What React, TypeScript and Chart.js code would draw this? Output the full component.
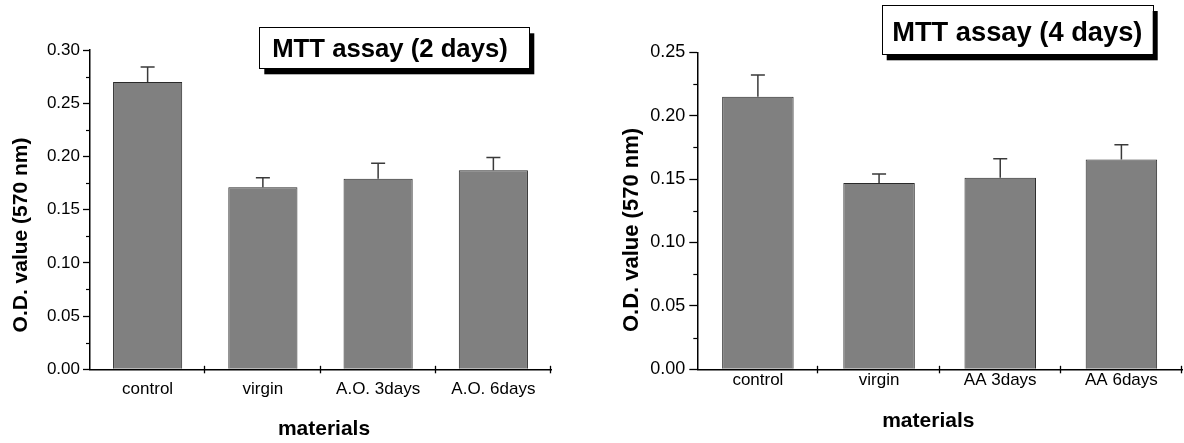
import React, { useEffect, useRef } from 'react';
import { Chart, registerables } from 'chart.js';

Chart.register(...registerables);

const FONT = "'Liberation Sans', Arial, Helvetica, sans-serif";

// ---- Data: MTT assay (2 days)
const title2 = 'MTT assay (2 days)';
const categories2 = ['control', 'virgin', 'A.O. 3days', 'A.O. 6days'];
const values2 = [0.27, 0.171, 0.179, 0.187];
const errors2 = [0.014, 0.009, 0.0145, 0.012];
const yMax2 = 0.3;

// ---- Data: MTT assay (4 days)
const title4 = 'MTT assay (4 days)';
const categories4 = ['control', 'virgin', 'AA 3days', 'AA 6days'];
const values4 = [0.215, 0.147, 0.151, 0.1655];
const errors4 = [0.017, 0.007, 0.015, 0.0115];
const yMax4 = 0.25;

const yMajorStep = 0.05;
const yMinorStep = 0.025;
const yAxisTitle = 'O.D. value (570 nm)';
const xAxisTitle = 'materials';

interface Layout {
  padTop: number;
  padRight: number;
  yWidth: number;
  xHeight: number;
  yTickLen: number;
  yTickPad: number;
  yFont: number;
  xFont: number;
  xPad: number;
  barPct: number;
  yTitleX: number;
  yTitleY: number;
  yTitleSize: number;
  xTitleX: number;
  xTitleBase: number;
  xTitleSize: number;
  boxX: number;
  boxY: number;
  boxW: number;
  boxH: number;
  boxFont: number;
  boxTextX: number;
  boxTextBase: number;
}

interface Panel {
  title: string;
  labels: string[];
  values: number[];
  errors: number[];
  yMax: number;
  layout: Layout;
}

const panels: Panel[] = [
  {
    title: title2,
    labels: categories2,
    values: values2,
    errors: errors2,
    yMax: yMax2,
    layout: {
      padTop: 50,
      padRight: 41,
      yWidth: 90,
      xHeight: 73.7,
      yTickLen: 7,
      yTickPad: 3,
      yFont: 17,
      xFont: 17,
      xPad: 9.5,
      barPct: 0.6,
      yTitleX: 21.7,
      yTitleY: 235,
      yTitleSize: 21,
      xTitleX: 324,
      xTitleBase: 435,
      xTitleSize: 21,
      boxX: 259.3,
      boxY: 27.3,
      boxW: 270,
      boxH: 41,
      boxFont: 25.7,
      boxTextX: 390,
      boxTextBase: 56.7,
    },
  },
  {
    title: title4,
    labels: categories4,
    values: values4,
    errors: errors4,
    yMax: yMax4,
    layout: {
      padTop: 52.3,
      padRight: 2,
      yWidth: 105.3,
      xHeight: 73.7,
      yTickLen: 8,
      yTickPad: 4,
      yFont: 18,
      xFont: 17,
      xPad: 1,
      barPct: 0.59,
      yTitleX: 39.7,
      yTitleY: 230,
      yTitleSize: 22,
      xTitleX: 336.3,
      xTitleBase: 426.7,
      xTitleSize: 21,
      boxX: 289.7,
      boxY: 5,
      boxW: 271,
      boxH: 49.3,
      boxFont: 27.3,
      boxTextX: 425.3,
      boxTextBase: 40.7,
    },
  },
];

const isMajor = (v: number) => Math.round(v / yMinorStep) % 2 === 0;

function makePlugin(panel: Panel) {
  const L = panel.layout;
  return {
    id: 'decor',
    afterDatasetsDraw(chart: any) {
      const ctx = chart.ctx;
      const y = chart.scales.y;
      const meta = chart.getDatasetMeta(0);
      ctx.save();
      ctx.strokeStyle = '#3a3a3a';
      ctx.lineWidth = 1.5;
      meta.data.forEach((bar: any, i: number) => {
        const top = y.getPixelForValue(panel.values[i] + panel.errors[i]);
        ctx.beginPath();
        ctx.moveTo(bar.x, bar.y);
        ctx.lineTo(bar.x, top);
        ctx.moveTo(bar.x - 7, top);
        ctx.lineTo(bar.x + 7, top);
        ctx.stroke();
      });
      ctx.restore();
    },
    afterDraw(chart: any) {
      const ctx = chart.ctx;
      const area = chart.chartArea;
      const y = chart.scales.y;
      ctx.save();
      // minor y ticks
      ctx.strokeStyle = '#000';
      ctx.lineWidth = 1.2;
      for (let v = yMinorStep; v < panel.yMax; v += yMajorStep) {
        const py = Math.round(y.getPixelForValue(v)) + 0.5;
        ctx.beginPath();
        ctx.moveTo(area.left - 4, py);
        ctx.lineTo(area.left, py);
        ctx.stroke();
      }
      // x ticks at category boundaries (crossing the axis)
      ctx.lineWidth = 1.3;
      const n = panel.labels.length;
      for (let k = 1; k <= n; k++) {
        const px = Math.round(area.left + (k * (area.right - area.left)) / n) - 0.5;
        ctx.beginPath();
        ctx.moveTo(px, area.bottom - 3.5);
        ctx.lineTo(px, area.bottom + 4);
        ctx.stroke();
      }
      // y axis title
      ctx.fillStyle = '#000';
      ctx.font = `bold ${L.yTitleSize}px ${FONT}`;
      ctx.textAlign = 'center';
      ctx.textBaseline = 'middle';
      ctx.save();
      ctx.translate(L.yTitleX, L.yTitleY);
      ctx.rotate(-Math.PI / 2);
      ctx.fillText(yAxisTitle, 0, 0);
      ctx.restore();
      // x axis title
      ctx.font = `bold ${L.xTitleSize}px ${FONT}`;
      ctx.textBaseline = 'alphabetic';
      ctx.fillText(xAxisTitle, L.xTitleX, L.xTitleBase);
      // title box with shadow
      ctx.fillStyle = '#000';
      ctx.fillRect(L.boxX + 5, L.boxY + 6, L.boxW, L.boxH);
      ctx.fillStyle = '#fff';
      ctx.fillRect(L.boxX, L.boxY, L.boxW, L.boxH);
      ctx.strokeStyle = '#000';
      ctx.lineWidth = 1;
      ctx.strokeRect(Math.round(L.boxX) + 0.5, Math.round(L.boxY) + 0.5, Math.round(L.boxW), Math.round(L.boxH));
      ctx.fillStyle = '#000';
      ctx.font = `bold ${L.boxFont}px ${FONT}`;
      ctx.textAlign = 'center';
      ctx.fillText(panel.title, L.boxTextX, L.boxTextBase);
      ctx.restore();
    },
  };
}

function PanelChart({ panel, left }: { panel: Panel; left: number }) {
  const ref = useRef<HTMLCanvasElement | null>(null);
  useEffect(() => {
    if (!ref.current) return;
    const L = panel.layout;
    const chart = new Chart(ref.current, {
      type: 'bar',
      data: {
        labels: panel.labels,
        datasets: [
          {
            data: panel.values,
            backgroundColor: '#808080',
            borderColor: '#2a2a2a',
            borderWidth: 1,
            barPercentage: L.barPct,
            categoryPercentage: 1,
          },
        ],
      },
      options: {
        responsive: false,
        animation: false,
        devicePixelRatio: 1,
        layout: { padding: { top: L.padTop, right: L.padRight, left: 0, bottom: 0 } },
        plugins: {
          legend: { display: false },
          tooltip: { enabled: false },
          title: { display: false },
        },
        scales: {
          x: {
            grid: { display: false, drawTicks: false },
            border: { display: true, color: '#000', width: 1.5 },
            ticks: {
              color: '#000',
              padding: L.xPad,
              font: { family: FONT, size: L.xFont },
              maxRotation: 0,
              autoSkip: false,
            },
            afterFit: (scale: any) => {
              scale.height = L.xHeight;
            },
          },
          y: {
            min: 0,
            max: panel.yMax,
            grid: {
              display: true,
              drawOnChartArea: false,
              drawTicks: true,
              tickLength: L.yTickLen,
              tickWidth: 1.3,
              tickColor: (c: any) => (c.tick && isMajor(c.tick.value) ? '#000' : 'rgba(0,0,0,0)'),
            },
            border: { display: true, color: '#000', width: 1.5 },
            ticks: {
              stepSize: yMinorStep,
              maxTicksLimit: 30,
              color: '#000',
              padding: L.yTickPad,
              font: { family: FONT, size: L.yFont },
              callback: (v: any) => (isMajor(Number(v)) ? Number(v).toFixed(2) : ''),
            },
            afterFit: (scale: any) => {
              scale.width = L.yWidth;
            },
          },
        },
      },
      plugins: [makePlugin(panel)],
    } as any);
    return () => chart.destroy();
  }, [panel]);
  return (
    <div style={{ position: 'absolute', left, top: 0, width: 592, height: 443 }}>
      <canvas ref={ref} width={592} height={443} style={{ display: 'block', width: 592, height: 443 }} />
    </div>
  );
}

export default function App() {
  return (
    <div
      style={{
        position: 'absolute',
        left: 0,
        top: 0,
        width: 1184,
        height: 443,
        background: '#fff',
        overflow: 'hidden',
      }}
    >
      <PanelChart panel={panels[0]} left={0} />
      <PanelChart panel={panels[1]} left={592} />
    </div>
  );
}
